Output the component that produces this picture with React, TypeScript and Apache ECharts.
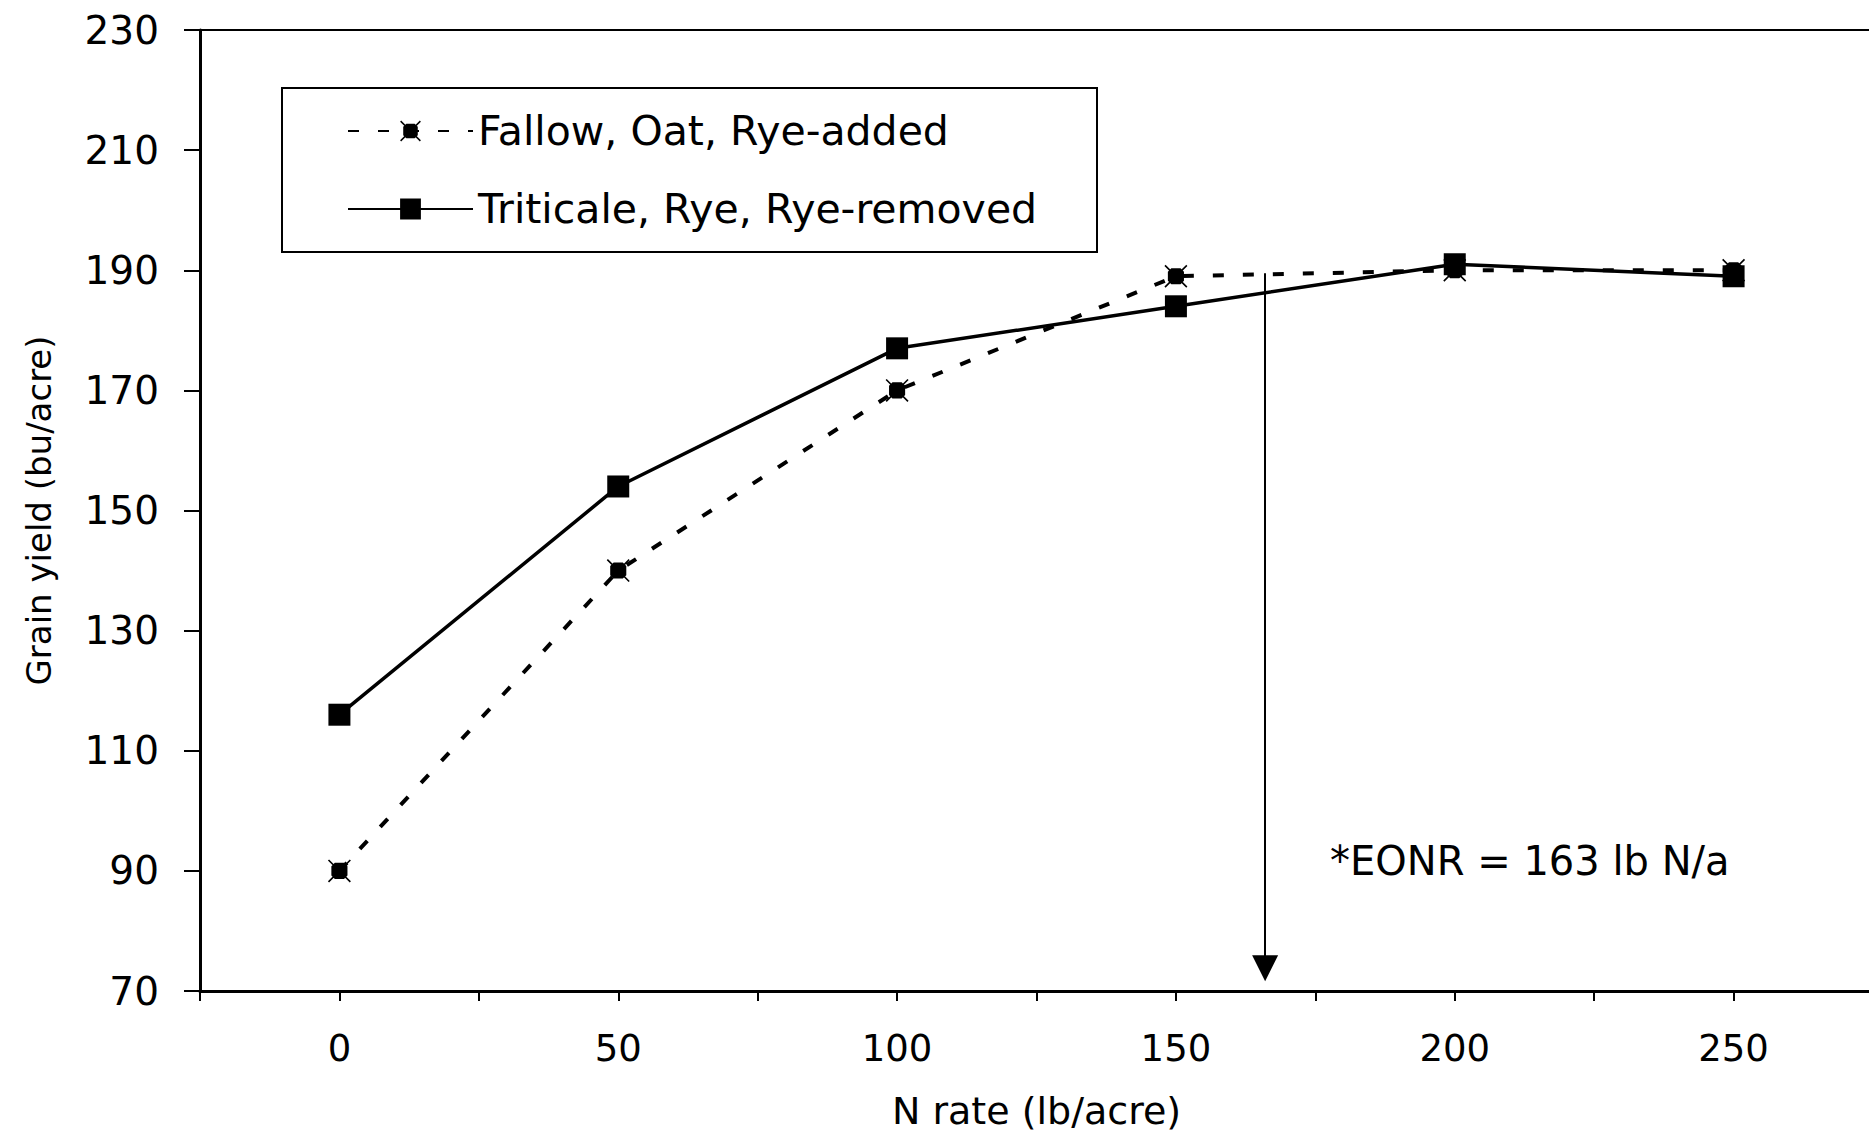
import React, { useEffect, useRef } from "react";
import * as echarts from "echarts";

// ---- data ----
const nRates = [0, 50, 100, 150, 200, 250];
const fallowYield = [90, 140, 170, 189, 190, 190];
const triticaleYield = [116, 154, 177, 184, 191, 189];
const seriesNames = ["Fallow, Oat, Rye-added", "Triticale, Rye, Rye-removed"];
const xTitle = "N rate (lb/acre)";
const yTitle = "Grain yield (bu/acre)";
const eonrLabel = "*EONR = 163 lb N/a";
const eonrX = 166;
const arrowTop = 189.5;
const arrowBottom = 73.8;

const FONT = '"DejaVu Sans", "Liberation Sans", Arial, sans-serif';
const asteriskSymbol =
  "path://M6 3L14 3L17 6L17 14L14 17L6 17L3 14L3 6Z M0 1L1 0L20 19L19 20Z M19 0L20 1L1 20L0 19Z";

export default function App() {
  const ref = useRef<HTMLDivElement>(null);
  useEffect(() => {
    if (!ref.current) return;
    const chart = echarts.init(ref.current, undefined, { renderer: "svg" });
    chart.setOption({
      animation: false,
      backgroundColor: "#fff",
      textStyle: { fontFamily: FONT, color: "#000" },
      grid: {
        left: 200,
        right: 0,
        top: 30,
        bottom: 130,
        show: false,
      },
      legend: {
        orient: "vertical",
        left: 282,
        top: 88,
        padding: [21, 44, 21, 65],
        itemGap: 34,
        itemWidth: 125,
        itemHeight: 26,
        borderColor: "#000",
        borderWidth: 2,
        backgroundColor: "#fff",
        data: seriesNames,
        textStyle: {
          fontFamily: FONT,
          fontSize: 41,
          color: "#000",
          lineHeight: 44,
          width: 575,
        },
      },
      xAxis: [
        {
          type: "value",
          min: -25,
          max: 275,
          interval: 25,
          name: xTitle,
          nameLocation: "middle",
          nameGap: 120,
          nameTextStyle: {
            fontFamily: FONT,
            fontSize: 38,
            color: "#000",
            verticalAlign: "middle",
          },
          axisLine: { show: true, onZero: false, lineStyle: { color: "#000", width: 3 } },
          axisTick: { show: true, length: 10, lineStyle: { color: "#000", width: 2 } },
          axisLabel: {
            fontFamily: FONT,
            fontSize: 37,
            color: "#000",
            margin: 39,
            formatter: (v: number) => (v >= 0 && v <= 250 && v % 50 === 0 ? String(v) : ""),
          },
          splitLine: { show: false },
        },
        {
          type: "value",
          position: "top",
          min: -25,
          max: 275,
          interval: 25,
          axisLine: { show: true, onZero: false, lineStyle: { color: "#000", width: 2 } },
          axisTick: { show: false },
          axisLabel: { show: false },
          splitLine: { show: false },
        },
      ],
      yAxis: {
        type: "value",
        min: 70,
        max: 230,
        interval: 20,
        name: yTitle,
        nameLocation: "middle",
        nameGap: 161,
        nameRotate: 90,
        nameTextStyle: {
          fontFamily: FONT,
          fontSize: 34,
          color: "#000",
          verticalAlign: "middle",
        },
        axisLine: { show: true, onZero: false, lineStyle: { color: "#000", width: 3 } },
        axisTick: { show: true, length: 16, lineStyle: { color: "#000", width: 2 } },
        axisLabel: { fontFamily: FONT, fontSize: 39, color: "#000", margin: 41 },
        splitLine: { show: false },
      },
      series: [
        {
          name: seriesNames[0],
          type: "line",
          xAxisIndex: 0,
          data: nRates.map((x, i) => [x, fallowYield[i]]),
          symbol: asteriskSymbol,
          symbolSize: 23,
          itemStyle: { color: "#000" },
          lineStyle: { color: "#000", width: 4, type: [11, 19] },
          z: 3,
          markLine: {
            silent: true,
            symbol: ["none", "triangle"],
            symbolSize: 26,
            label: { show: false },
            lineStyle: { color: "#000", width: 2, type: "solid" },
            data: [[{ coord: [eonrX, arrowTop] }, { coord: [eonrX, arrowBottom] }]],
          },
        },
        {
          name: seriesNames[1],
          type: "line",
          xAxisIndex: 0,
          data: nRates.map((x, i) => [x, triticaleYield[i]]),
          symbol: "rect",
          symbolSize: 22,
          itemStyle: { color: "#000" },
          lineStyle: { color: "#000", width: 3.5, type: "solid" },
          z: 4,
        },
      ],
      graphic: [
        {
          type: "text",
          x: 1330,
          y: 861,
          style: {
            text: eonrLabel,
            fontFamily: FONT,
            fontSize: 40,
            fill: "#000",
            align: "left",
            verticalAlign: "middle",
          },
        },
      ],
    });
    return () => chart.dispose();
  }, []);
  return (
    <div
      ref={ref}
      style={{ position: "fixed", left: 0, top: 0, width: 1876, height: 1135, background: "#fff" }}
    />
  );
}
